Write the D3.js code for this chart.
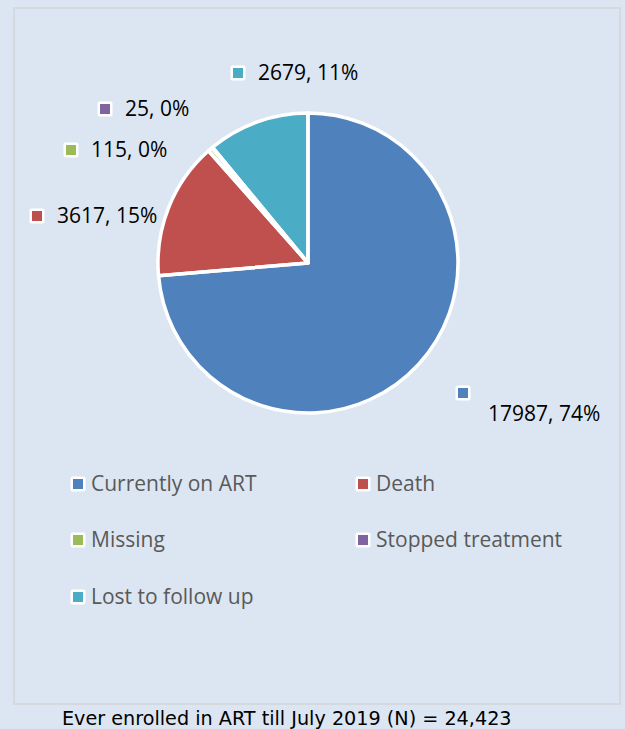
<!DOCTYPE html>
<html>
<head>
<meta charset="utf-8">
<script src="https://cdn.jsdelivr.net/npm/d3@7"></script>
<style>
  html, body { margin: 0; padding: 0; background: #dce6f2; }
  svg { display: block; }
</style>
</head>
<body>
<div id="chart"></div>
<script>
// Data
const categories = ['Currently on ART', 'Death', 'Missing', 'Stopped treatment', 'Lost to follow up'];
const counts = [17987, 3617, 115, 25, 2679];
const percentLabels = ['74%', '15%', '0%', '0%', '11%'];
const colors = ['#4f81bd', '#c0504d', '#9bbb59', '#8064a2', '#4bacc6'];
const caption = 'Ever enrolled in ART till July 2019 (N) = 24,423';

const width = 625;
const height = 729;
const cx = 308;
const cy = 263;
const radius = 150;

// Data label marker positions, relative to the pie centre (hand-placed like the original)
const labelOffsets = [[155, 130], [-271, -47], [-237, -113], [-203, -154], [-70, -190]];

const svg = d3.select('#chart')
  .append('svg')
  .attr('width', width)
  .attr('height', height);

svg.append('rect')
  .attr('width', width)
  .attr('height', height)
  .attr('fill', '#dce6f2');

// Chart area border
svg.append('rect')
  .attr('x', 14)
  .attr('y', 8)
  .attr('width', 606)
  .attr('height', 696)
  .attr('fill', 'none')
  .attr('stroke', '#d4d9df')
  .attr('stroke-width', 2);

const pie = d3.pie().sort(null).value((d) => d);
const arcs = pie(counts);
const arc = d3.arc().innerRadius(0).outerRadius(radius);

const g = svg.append('g').attr('transform', `translate(${cx},${cy})`);

g.selectAll('path.slice')
  .data(arcs)
  .join('path')
  .attr('class', 'slice')
  .attr('d', arc)
  .attr('fill', (d, i) => colors[i]);

// White outlines drawn over all fills, so the tiny slices read as a gap
g.selectAll('path.outline')
  .data(arcs)
  .join('path')
  .attr('class', 'outline')
  .attr('d', arc)
  .attr('fill', 'none')
  .attr('stroke', '#ffffff')
  .attr('stroke-width', 3.5)
  .attr('stroke-linejoin', 'round');

// Small legend-key style marker: white rounded square with a colour square inside
function marker(parent, x, y, color, outer, inner) {
  parent.append('rect')
    .attr('x', x - outer / 2)
    .attr('y', y - outer / 2)
    .attr('width', outer)
    .attr('height', outer)
    .attr('rx', 2)
    .attr('fill', '#ffffff');
  parent.append('rect')
    .attr('x', x - inner / 2)
    .attr('y', y - inner / 2)
    .attr('width', inner)
    .attr('height', inner)
    .attr('fill', color);
}

const labelFont = '"Open Sans", Lato, sans-serif';

arcs.forEach((d, i) => {
  const [ox, oy] = labelOffsets[i];
  const mx = cx + ox;
  const my = cy + oy;
  marker(svg, mx, my, colors[i], 15, 10);
  // The largest label wraps to a second line below its marker
  const wrapped = i === 0;
  svg.append('text')
    .attr('x', wrapped ? mx + 25 : mx + 20)
    .attr('y', wrapped ? my + 21 : my)
    .attr('dy', '0.35em')
    .attr('font-family', labelFont)
    .attr('font-size', 21)
    .attr('fill', '#000000')
    .text(`${counts[i]}, ${percentLabels[i]}`);
});

// Legend, two columns
const legendCols = [78, 363];
const legendRows = [484, 540, 597];

categories.forEach((name, i) => {
  const x = legendCols[i % 2];
  const y = legendRows[Math.floor(i / 2)];
  marker(svg, x, y, colors[i], 15, 10);
  svg.append('text')
    .attr('x', x + 13)
    .attr('y', y)
    .attr('dy', '0.35em')
    .attr('font-family', labelFont)
    .attr('font-size', 21)
    .attr('fill', '#595959')
    .text(name);
});

svg.append('text')
  .attr('x', 62)
  .attr('y', 718)
  .attr('dy', '0.35em')
  .attr('font-family', '"DejaVu Sans", sans-serif')
  .attr('font-size', 19.2)
  .attr('fill', '#000000')
  .text(caption);
</script>
</body>
</html>
